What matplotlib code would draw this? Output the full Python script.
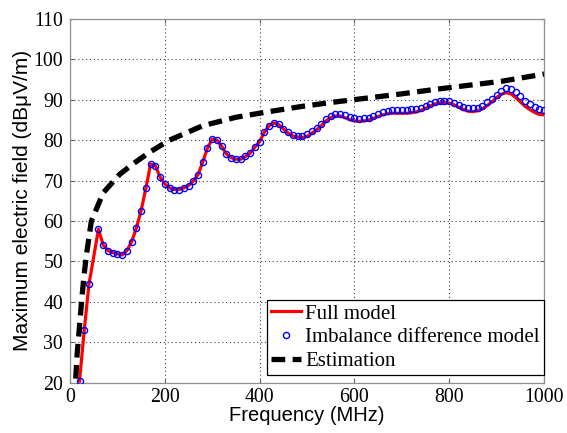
import matplotlib
matplotlib.use("Agg")
import matplotlib.pyplot as plt

# Frequencies (MHz)
freq = [20, 30, 40] + list(range(60, 1001, 10))

imbalance = [20.4, 33.0, 44.4,
             58.0, 54.1, 52.7, 52.2, 51.9, 51.6, 52.7, 54.9, 58.3, 62.6,
             68.1, 74.1, 73.7, 70.9, 69.2, 68.2, 67.8, 67.8, 68.2, 68.8,
             69.9, 71.5, 74.6, 78.1, 80.3, 80.0, 78.5, 76.6, 75.7, 75.3,
             75.3, 76.0, 76.8, 78.3, 79.7, 82.0, 83.6, 84.4, 84.1, 82.9,
             82.0, 81.4, 81.1, 81.1, 81.5, 82.2, 83.0, 84.0, 85.2, 86.0,
             86.5, 86.5, 86.2, 85.8, 85.5, 85.3, 85.5, 85.6, 86.0, 86.5,
             87.0, 87.3, 87.5, 87.5, 87.5, 87.5, 87.7, 87.7, 88.0, 88.4,
             88.9, 89.5, 89.8, 89.8, 89.7, 89.3, 88.8, 88.3, 88.0, 87.9,
             88.1, 88.6, 89.4, 90.2, 91.3, 92.2, 92.9, 92.7, 91.9, 90.9,
             89.8, 88.9, 88.2, 87.8, 87.6]

full_model = [20.4, 33.0, 44.4,
              58.0, 54.1, 52.7, 52.2, 51.9, 51.6, 52.7, 54.9, 58.3, 62.6,
              68.1, 74.1, 73.7, 70.9, 69.2, 68.2, 67.8, 67.8, 68.2, 68.8,
              69.9, 71.5, 74.6, 78.1, 80.3, 80.0, 78.5, 76.6, 75.7, 75.3,
              75.3, 76.0, 76.8, 78.3, 79.7, 82.0, 83.6, 84.3, 83.9, 82.8,
              81.8, 81.1, 80.8, 80.7, 81.0, 81.7, 82.6, 83.6, 84.8, 85.6,
              86.0, 86.0, 85.6, 85.1, 84.8, 84.7, 84.8, 85.0, 85.4, 85.9,
              86.3, 86.6, 86.7, 86.7, 86.7, 86.7, 86.8, 87.0, 87.4, 87.9,
              88.5, 89.0, 89.3, 89.4, 89.2, 88.8, 88.2, 87.6, 87.2, 87.1,
              87.3, 87.8, 88.6, 89.5, 90.6, 91.4, 91.8, 91.5, 90.6, 89.5,
              88.4, 87.6, 86.9, 86.4, 86.3]

est_freq = [12, 15, 20, 25, 30, 35, 45, 70, 105, 137, 170, 209, 280,
            350, 420, 490, 560, 630, 700, 770, 840, 910, 1000]
estimation = [21.0, 27.0, 34.0, 41.0, 47.0, 52.0, 60.0, 67.0, 71.6, 74.5,
              77.2, 80.0, 83.6, 85.7, 87.1, 88.4, 89.5, 90.5, 91.5, 92.6,
              93.6, 94.6, 96.4]

xticks = [0, 200, 400, 600, 800, 1000]
yticks = [20, 30, 40, 50, 60, 70, 80, 90, 100, 110]

fig = plt.figure(figsize=(5.67, 4.33), dpi=100)
ax = fig.add_axes([0.1235, 0.1162, 0.836, 0.8397])

ax.plot(freq, full_model, color='red', lw=2.3, label='Full model', zorder=3)
ax.plot(freq, imbalance, linestyle='none', marker='o', markersize=4.4,
        markerfacecolor='none', markeredgecolor='blue', markeredgewidth=1.0,
        label='Imbalance difference model', zorder=4)
ln, = ax.plot(est_freq, estimation, color='black', lw=3.8, label='Estimation',
              zorder=5, dash_capstyle='butt')
ln.set_dashes([2.6, 1.4])

ax.set_xlim(0, 1000)
ax.set_ylim(20, 110)
ax.set_xticks(xticks)
ax.set_yticks(yticks)
ax.grid(True, linestyle=(0, (1, 2.5)), color='#444444', lw=0.8)
ax.set_axisbelow(True)

for sp in ax.spines.values():
    sp.set_color('#909090')
    sp.set_linewidth(0.9)
ax.tick_params(direction='in', length=3, width=0.8, color='#606060',
               top=True, right=True, labelsize=14.3)
ax.tick_params(axis='x', pad=4)
ax.tick_params(axis='y', pad=5)
for lab in ax.get_xticklabels() + ax.get_yticklabels():
    lab.set_fontfamily('Liberation Serif')

ax.set_xlabel('Frequency (MHz)', fontfamily='Liberation Sans', fontsize=14.5, labelpad=-1)
ax.set_ylabel('Maximum electric field (dBμV/m)', fontfamily='Liberation Sans',
              fontsize=15, labelpad=1)

leg = ax.legend(loc='lower right', bbox_to_anchor=(1.0, 0.02), borderaxespad=0,
                prop={'family': 'Liberation Serif', 'size': 15},
                fancybox=False, framealpha=1, edgecolor='black',
                handlelength=1.45, handletextpad=0.2, borderpad=0.2,
                labelspacing=0.2)
leg.get_frame().set_linewidth(0.9)

fig.savefig('out.png', dpi=100)
